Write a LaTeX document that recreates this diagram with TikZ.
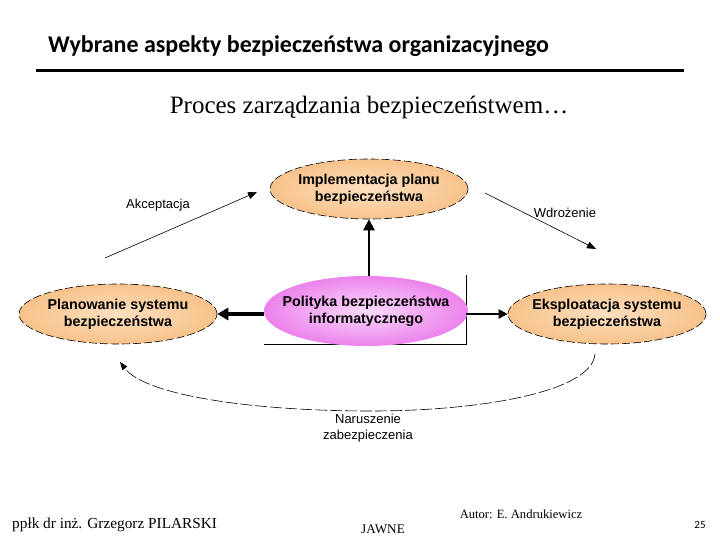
\documentclass[tikz,border=0pt]{standalone}
\usepackage{fontspec}
\setmainfont{Liberation Serif}
\newfontfamily\arialf{Liberation Sans}
\newfontfamily\calib{Carlito}
\usetikzlibrary{shapes.geometric,arrows.meta}
\definecolor{orin}{HTML}{FCE0C0}
\definecolor{orout}{HTML}{F7C28A}
\definecolor{pkin}{HTML}{FADAFA}
\definecolor{pkout}{HTML}{EC82EC}
\tikzset{
  orell/.style={ellipse, draw, inner sep=0pt, line width=0.6pt, dash pattern=on 8pt off 3pt,
     inner color=orin, outer color=orout, minimum width=198pt, minimum height=60pt},
  pkell/.style={ellipse, draw=none, inner sep=0pt, inner color=pkin, outer color=pkout,
     minimum width=204pt, minimum height=70pt},
  etext/.style={font=\arialf\bfseries\fontsize{14.3}{17}\selectfont, align=center, inner sep=0pt},
  lbl/.style={font=\arialf\fontsize{13}{16}\selectfont, align=center, inner sep=0pt},
  thin arr/.style={-{Triangle[length=9pt,width=7pt]}, line width=0.6pt},
  foot/.style={inner sep=0pt}
}
\begin{document}
\begin{tikzpicture}[x=1pt,y=-1pt]
\useasboundingbox (0,0) rectangle (720,540);
% header
\node[anchor=west, inner sep=0pt, font=\calib\bfseries\fontsize{24}{28}\selectfont] (title) at (48,46) {Wybrane aspekty bezpieczeństwa organizacyjnego};
\draw[line width=3pt] (36,71) coordinate (hl) -- (684,71) coordinate (hr);
\node[inner sep=0pt, font=\fontsize{25}{28}\selectfont] (sub) at (369,107) {Proces zarządzania bezpieczeństwem…};
% frame lines behind the central ellipse
\coordinate (fa) at (264,344);
\coordinate (fb) at (466,344);
\coordinate (fc) at (466,275);
\draw[line width=1pt] (fa) -- (fb) -- (fc);
% nodes
\node[orell] (impl) at (369,189) {};
\node[etext] (implt) at (impl) {Implementacja planu\\bezpieczeństwa};
\node[orell] (plan) at (118,314) {};
\node[etext] (plant) at (plan) {Planowanie systemu\\bezpieczeństwa};
\node[orell] (eksp) at (607,314) {};
\node[etext] (ekspt) at (eksp) {Eksploatacja systemu\\bezpieczeństwa};
\node[pkell] (pol) at (366,311) {};
\node[etext] (polt) at (pol) {Polityka bezpieczeństwa\\informatycznego};
% arrows
\draw[line width=2.5pt, -{Triangle[length=11pt,width=11pt]}] (pol.north -| impl) -- (impl.south);
\draw[line width=4pt, -{Triangle[length=11pt,width=12pt]}] (pol.west |- plan) -- (plan.east);
\coordinate (fr) at (fc |- eksp);
\draw[line width=2pt, -{Triangle[length=9pt,width=9pt]}] (fr) -- (eksp.west);
\coordinate (a1) at (105,258);
\coordinate (a2) at (257,192);
\draw[thin arr] (a1) -- (a2);
\node[lbl] (akc) at (158,205) {Akceptacja};
\coordinate (w1) at (485,193);
\coordinate (w2) at (596,249);
\draw[thin arr] (w1) -- (w2);
\node[lbl] (wdr) at (565,213) {Wdrożenie};
\coordinate (c1) at (595,354);
\coordinate (c2) at (371,411);
\coordinate (c3) at (120,362);
\draw[line width=0.6pt, dash pattern=on 12pt off 3pt, -{Triangle[length=8pt,width=6pt]}]
  (c1) .. controls (592,392) and (480,411) .. (c2) .. controls (250,411) and (145,395) .. (c3);
\node[lbl] (nar) at (368,428) {Naruszenie\\zabezpieczenia};
% footer
\node[foot, anchor=west, font=\fontsize{15.3}{18}\selectfont] (auth) at (12,525) {ppłk dr inż. Grzegorz PILARSKI};
\node[foot, font=\fontsize{13.2}{15}\selectfont] (jaw) at (383,529) {JAWNE};
\node[foot, font=\fontsize{12.6}{15}\selectfont] (aut) at (521,514) {Autor: E. Andrukiewicz};
\node[inner sep=0pt, font=\calib\fontsize{11}{13}\selectfont] (pg) at (700,525) {25};
\end{tikzpicture}
\end{document}
